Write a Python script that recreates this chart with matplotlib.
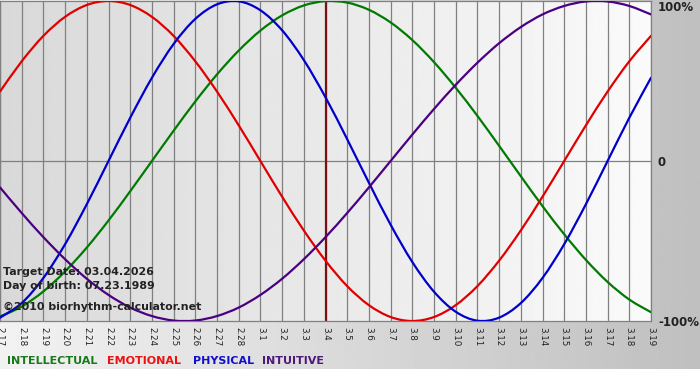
import numpy as np
import matplotlib
matplotlib.use("Agg")
import matplotlib.pyplot as plt
from matplotlib.path import Path
from matplotlib.patches import PathPatch

# days shown on the chart (month.day)
days = ['2.17', '2.18', '2.19', '2.20', '2.21', '2.22', '2.23', '2.24', '2.25', '2.26',
        '2.27', '2.28', '3.1', '3.2', '3.3', '3.4', '3.5', '3.6', '3.7', '3.8',
        '3.9', '3.10', '3.11', '3.12', '3.13', '3.14', '3.15', '3.16', '3.17', '3.18', '3.19']
target_day = '3.4'

# cycle values, one per day
physical = [-0.979, -0.888, -0.731, -0.520, -0.270, 0.000, 0.270, 0.520, 0.731, 0.888,
            0.979, 0.998, 0.942, 0.817, 0.631, 0.398, 0.136, -0.136, -0.398, -0.631,
            -0.817, -0.942, -0.998, -0.979, -0.888, -0.731, -0.520, -0.270, 0.000, 0.270, 0.520]
emotional = [0.434, 0.623, 0.782, 0.901, 0.975, 1.000, 0.975, 0.901, 0.782, 0.623,
             0.434, 0.223, 0.000, -0.223, -0.434, -0.623, -0.782, -0.901, -0.975, -1.000,
             -0.975, -0.901, -0.782, -0.623, -0.434, -0.223, 0.000, 0.223, 0.434, 0.623, 0.782]
intellectual = [-0.972, -0.910, -0.815, -0.690, -0.541, -0.372, -0.189, 0.000, 0.189, 0.372,
                0.541, 0.690, 0.815, 0.910, 0.972, 0.999, 0.990, 0.945, 0.866, 0.756,
                0.618, 0.458, 0.282, 0.095, -0.095, -0.282, -0.458, -0.618, -0.756, -0.866, -0.945]
intuitive = [-0.165, -0.325, -0.476, -0.614, -0.736, -0.837, -0.916, -0.969, -0.997, -0.997,
             -0.969, -0.916, -0.837, -0.736, -0.614, -0.476, -0.325, -0.165, 0.000, 0.165,
             0.325, 0.476, 0.614, 0.736, 0.837, 0.916, 0.969, 0.997, 0.997, 0.969, 0.916]

series = [('INTELLECTUAL', intellectual, '#007a00', '#1a7a1a'),
          ('EMOTIONAL', emotional, '#e00000', '#ee1111'),
          ('PHYSICAL', physical, '#0000cc', '#1010cc'),
          ('INTUITIVE', intuitive, '#4b0082', '#4b1a7a')]
legend_x = [7, 107, 193, 262]

y_ticks = [-1, 0, 1]
y_labels = ['-100%', '0', '100%']

info_lines = ['Target Date: 03.04.2026', 'Day of birth: 07.23.1989',
              '\u00a92010 biorhythm-calculator.net']
info_y = [272, 286, 307]


def smooth_path(xs, ys):
    """Catmull-Rom through the points, drawn as cubic bezier pieces."""
    pts = np.column_stack([xs, ys]).astype(float)
    padded = np.vstack([pts[:1], pts, pts[-1:]])
    verts = [pts[0]]
    codes = [Path.MOVETO]
    for i in range(len(pts) - 1):
        p0, p1, p2, p3 = padded[i], padded[i + 1], padded[i + 2], padded[i + 3]
        verts += [p1 + (p2 - p0) / 6, p2 - (p3 - p1) / 6, p2]
        codes += [Path.CURVE4] * 3
    return Path(verts, codes)


W, H = 700, 380
fig = plt.figure(figsize=(W / 100, H / 100), dpi=100)
fig.patch.set_facecolor('white')

# page background: grey gradient, white strip at the very bottom
bg = fig.add_axes([0, 0, 1, 1], zorder=-5)
bg.imshow(np.linspace(0.95, 0.75, 256)[None, :], cmap='gray', vmin=0, vmax=1,
          extent=[0, 1, 11 / H, 1], aspect='auto', interpolation='bilinear')
bg.set_xlim(0, 1)
bg.set_ylim(0, 1)
bg.axis('off')

x = np.arange(len(days))
ax = fig.add_axes([0, 59 / H, 651 / W, 320 / H])
ax.set_xlim(x[0], x[-1])
ax.set_ylim(-1, 1)
ax.imshow(np.linspace(0.85, 0.98, 256)[None, :], cmap='gray', vmin=0, vmax=1,
          extent=[x[0], x[-1], -1, 1], aspect='auto', interpolation='bilinear', zorder=0)

for xi in x:
    ax.axvline(xi, color='#808080', lw=0.9, zorder=1)
ax.axhline(0, color='#808080', lw=0.9, zorder=1)
ax.axvline(days.index(target_day), color='#7a1010', lw=1.6, zorder=2)

for name, vals, col, _ in series:
    ax.add_patch(PathPatch(smooth_path(x, vals), fill=False, edgecolor=col,
                           lw=1.6, zorder=3, capstyle='round'))

for s in ax.spines.values():
    s.set_color('#808080')
    s.set_linewidth(0.9)

ax.set_xticks(x)
ax.set_xticklabels(days, rotation=270, fontsize=6.3, color='#222222')
ax.tick_params(axis='x', length=0, pad=4)
ax.yaxis.tick_right()
ax.set_yticks(y_ticks)
ax.set_yticklabels(y_labels, fontsize=8.5, fontweight='bold', color='#222222')
ax.tick_params(axis='y', length=0, pad=5)
ax.get_yticklabels()[-1].set_verticalalignment('top')

for txt, ty in zip(info_lines, info_y):
    fig.text(3 / W, 1 - ty / H, txt, fontsize=7.9, fontweight='bold',
             color='#222222', va='center', ha='left')

for (name, _, _, lcol), lx in zip(series, legend_x):
    fig.text(lx / W, 1 - 361 / H, name, fontsize=8, fontweight='bold',
             color=lcol, va='center', ha='left')

fig.savefig('out.png', dpi=100)
